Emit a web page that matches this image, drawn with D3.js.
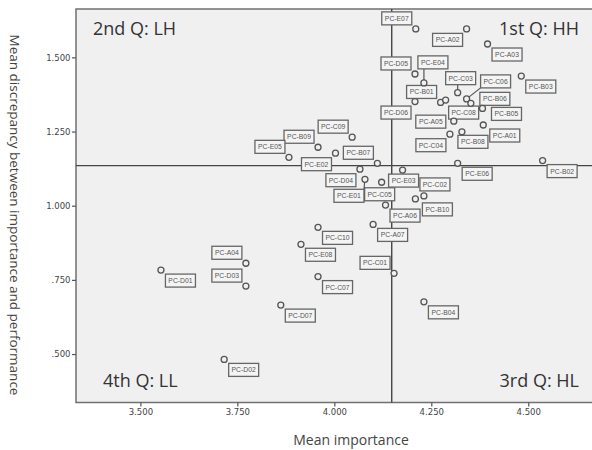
<!DOCTYPE html>
<html>
<head>
<meta charset="utf-8">
<script src="https://cdn.jsdelivr.net/npm/d3@7"></script>
<style>
  body { margin: 0; background: #fff; }
  svg { display: block; }
</style>
</head>
<body>
<div id="chart"></div>
<script>
// items (IPA: importance vs discrepancy)
const labels = [
  "PC-E07", "PC-A02", "PC-A03", "PC-D05", "PC-E04", "PC-C03", "PC-C06", "PC-B03",
  "PC-D06", "PC-B01", "PC-C08", "PC-B06", "PC-B05", "PC-A05", "PC-A01", "PC-B08",
  "PC-C04", "PC-E06", "PC-B02", "PC-E03", "PC-C02", "PC-B10", "PC-A06", "PC-A07",
  "PC-C05", "PC-E01", "PC-D04", "PC-B07", "PC-E02", "PC-C09", "PC-B09", "PC-E05",
  "PC-C10", "PC-E08", "PC-C01", "PC-C07", "PC-D07", "PC-B04", "PC-D01", "PC-A04",
  "PC-D03", "PC-D02"
];
const importance = [
  4.210, 4.341, 4.395, 4.208, 4.231, 4.318, 4.341, 4.482,
  4.208, 4.274, 4.287, 4.352, 4.382, 4.308, 4.384, 4.329,
  4.298, 4.318, 4.537, 4.176, 4.231, 4.209, 4.132, 4.100,
  4.122, 4.079, 4.066, 4.111, 4.003, 4.046, 3.958, 3.883,
  3.958, 3.914, 4.154, 3.958, 3.862, 4.231, 3.553, 3.772,
  3.772, 3.716
];
const discrepancy = [
  1.596, 1.596, 1.545, 1.444, 1.414, 1.381, 1.360, 1.437,
  1.351, 1.348, 1.356, 1.345, 1.328, 1.285, 1.272, 1.249,
  1.241, 1.143, 1.152, 1.120, 1.033, 1.023, 1.002, 0.937,
  1.079, 1.089, 1.123, 1.143, 1.177, 1.231, 1.197, 1.163,
  0.927, 0.870, 0.772, 0.761, 0.665, 0.676, 0.783, 0.806,
  0.729, 0.482
];
const meanImportance = 4.148;
const meanDiscrepancy = 1.135;
const xTicks = [3.5, 3.75, 4.0, 4.25, 4.5];
const yTicks = [0.5, 0.75, 1.0, 1.25, 1.5];
const quadrants = ["1st Q: HH", "2nd Q: LH", "3rd Q: HL", "4th Q: LL"];

// where each label box sits relative to its point
const place = {
  br: [4.5, 4], al: [-34, -17], bl: [-34, 4.5]
};
const labelPlace = {
  "PC-E07": "al", "PC-A02": "bl", "PC-D05": "al", "PC-D06": "bl", "PC-B01": "al",
  "PC-C04": "bl", "PC-D04": "bl", "PC-B07": "al", "PC-E02": "bl", "PC-C09": "al",
  "PC-B09": "al", "PC-E05": "al", "PC-C01": "al", "PC-A04": "al", "PC-D03": "al",
  "PC-E04": [-6, -27], "PC-C03": [-12, -21], "PC-C06": [14, -24], "PC-B06": [9, -11],
  "PC-B05": [9, -1], "PC-A05": [-38, -6], "PC-B08": [-4, 3.5], "PC-E03": [-14, 4],
  "PC-C02": [-4, -18], "PC-C05": [-17, 5.5], "PC-E01": [-31, 10], "PC-B10": [7, 4],
  "PC-A01": [6.5, 4], "PC-C08": [3, 6]
};
const leaders = ["PC-E04", "PC-C03", "PC-C06", "PC-E01"];

const width = 592, height = 450;
const plot = { left: 76, top: 9, right: 626, bottom: 402.5 };

const svg = d3.select("#chart").append("svg")
  .attr("width", width)
  .attr("height", height);

const x = d3.scaleLinear().domain([3.334, 4.752]).range([plot.left, plot.right]);
const y = d3.scaleLinear().domain([0.3367, 1.663]).range([plot.bottom, plot.top]);

// plot background + frame
svg.append("rect")
  .attr("x", plot.left).attr("y", plot.top)
  .attr("width", plot.right - plot.left).attr("height", plot.bottom - plot.top)
  .attr("fill", "#f0f0f0")
  .attr("stroke", "#707070")
  .attr("stroke-width", 1.5);

const fmt = d => d3.format(".3f")(d).replace(/^0\./, ".");

const xAxis = svg.append("g")
  .attr("transform", `translate(0,${plot.bottom})`)
  .call(d3.axisBottom(x).tickValues(xTicks).tickSize(4).tickSizeOuter(0).tickFormat(fmt));
const yAxis = svg.append("g")
  .attr("transform", `translate(${plot.left},0)`)
  .call(d3.axisLeft(y).tickValues(yTicks).tickSize(4).tickSizeOuter(0).tickFormat(fmt));

[xAxis, yAxis].forEach(g => {
  g.select(".domain").remove();
  g.selectAll(".tick line").attr("stroke", "#555").attr("stroke-width", 1.2);
  g.selectAll(".tick text")
    .attr("fill", "#444")
    .style("font-family", "DejaVu Sans")
    .style("font-size", "8.5px");
});
xAxis.selectAll(".tick text").attr("dy", "0.5em").attr("y", 8);
yAxis.selectAll(".tick text").attr("x", -5.5);

// reference lines at the means
svg.append("line")
  .attr("x1", x(meanImportance)).attr("x2", x(meanImportance))
  .attr("y1", plot.top).attr("y2", plot.bottom)
  .attr("stroke", "#444").attr("stroke-width", 1.4);
svg.append("line")
  .attr("x1", plot.left).attr("x2", plot.right)
  .attr("y1", y(meanDiscrepancy)).attr("y2", y(meanDiscrepancy))
  .attr("stroke", "#444").attr("stroke-width", 1.4);

// quadrant captions
const qFont = g => g.attr("fill", "#333")
  .style("font-family", "Open Sans")
  .style("font-size", "18px");
svg.append("text").text(quadrants[1]).attr("x", 93).attr("y", 35).call(qFont);
svg.append("text").text(quadrants[0]).attr("x", 579).attr("y", 35).attr("text-anchor", "end").call(qFont);
svg.append("text").text(quadrants[3]).attr("x", 103).attr("y", 387).call(qFont);
svg.append("text").text(quadrants[2]).attr("x", 579).attr("y", 387).attr("text-anchor", "end").call(qFont);

// points + labels
const pts = labels.map((name, i) => ({ name, ix: importance[i], dv: discrepancy[i] }));
const bw = 30, bh = 13, r = 3;

const lab = svg.append("g");
pts.forEach(p => {
  const cx = x(p.ix), cy = y(p.dv);
  let off = labelPlace[p.name] || "br";
  if (typeof off === "string") off = place[off];
  const bx = cx + off[0], by = cy + off[1];

  if (leaders.includes(p.name)) {
    const nx = Math.max(bx, Math.min(cx, bx + bw));
    const ny = Math.max(by, Math.min(cy, by + bh));
    lab.append("line")
      .attr("x1", cx).attr("y1", cy).attr("x2", nx).attr("y2", ny)
      .attr("stroke", "#555").attr("stroke-width", 1.2);
  }
  lab.append("rect")
    .attr("x", bx).attr("y", by)
    .attr("width", bw).attr("height", bh)
    .attr("fill", "#f4f4f4")
    .attr("stroke", "#666")
    .attr("stroke-width", 1.3);
  lab.append("text")
    .attr("x", bx + bw / 2).attr("y", by + bh / 2 + 2.4)
    .attr("text-anchor", "middle")
    .attr("fill", "#555")
    .style("font-family", "Liberation Sans")
    .style("font-size", "6.8px")
    .text(p.name);
});

svg.append("g").selectAll("circle")
  .data(pts).enter()
  .append("circle")
  .attr("cx", d => x(d.ix))
  .attr("cy", d => y(d.dv))
  .attr("r", r)
  .attr("fill", "#f0f0f0")
  .attr("stroke", "#555")
  .attr("stroke-width", 1.3);

// axis titles
svg.append("text")
  .attr("x", 351).attr("y", 445)
  .attr("text-anchor", "middle")
  .attr("fill", "#444")
  .style("font-family", "Open Sans")
  .style("font-size", "14px")
  .text("Mean importance");

svg.append("text")
  .attr("transform", "translate(9.5,215) rotate(90)")
  .attr("text-anchor", "middle")
  .attr("fill", "#444")
  .style("font-family", "Open Sans")
  .style("font-size", "13.5px")
  .text("Mean discrepancy between importance and performance");
</script>
</body>
</html>
